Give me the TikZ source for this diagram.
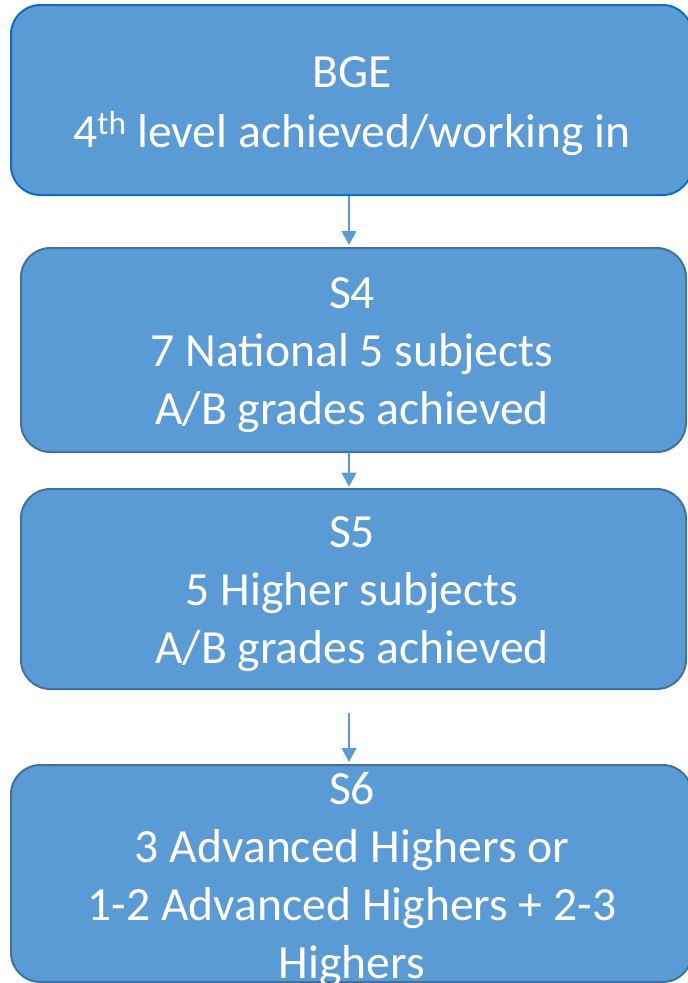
\documentclass[tikz,border=0pt]{standalone}
\usepackage{fontspec}
\setmainfont{Carlito}
\usetikzlibrary{arrows.meta}
\definecolor{boxfill}{HTML}{5B9BD5}
\definecolor{boxline}{HTML}{41719C}
\definecolor{firstline}{HTML}{0A6FC2}
\begin{document}
\begin{tikzpicture}[x=0.75pt,y=-0.75pt,
  stagebox/.style={draw=boxline, line width=1.5pt, fill=boxfill, rounded corners=22pt, inner sep=0pt},
  stagetext/.style={text=white, align=center, inner sep=0pt, font=\fontsize{35.7}{43.5}\selectfont},
  arr/.style={draw=boxfill, line width=1.5pt, -{Triangle[width=11pt,length=10.5pt]}}]
\useasboundingbox (0,0) rectangle (687,983);
% boxes
\node[stagebox, draw=firstline, minimum width=681*0.75pt, minimum height=190*0.75pt] (b1) at (351.5,100) {};
\node[stagebox, minimum width=665*0.75pt, minimum height=204*0.75pt] (b2) at (353.5,350) {};
\node[stagebox, minimum width=665*0.75pt, minimum height=200*0.75pt] (b3) at (353.5,589) {};
\node[stagebox, minimum width=681*0.75pt, minimum height=217*0.75pt] (b4) at (351.5,873.5) {};
% texts
\node[stagetext, font=\fontsize{35.7}{44.5}\selectfont] (t1) at (352,106) {BGE\\4\textsuperscript{th} level achieved/working in};
\node[stagetext] (t2) at (352,355) {S4\\7 National 5 subjects\\A/B grades achieved};
\node[stagetext] (t3) at (352,594) {S5\\5 Higher subjects\\A/B grades achieved};
\node[stagetext] (t4) at (352,880) {S6\\3 Advanced Highers or\\1-2 Advanced Highers + 2-3\\Highers};
% connectors
\coordinate (ax) at (349,0);
\draw[arr, shorten >=1.5pt] (b1.south -| ax) -- (b2.north -| ax);
\draw[arr, shorten >=1pt] (b2.south -| ax) -- (b3.north -| ax);
\draw[arr, shorten <=17pt, shorten >=1.5pt] (b3.south -| ax) -- (b4.north -| ax);
\end{tikzpicture}
\end{document}
